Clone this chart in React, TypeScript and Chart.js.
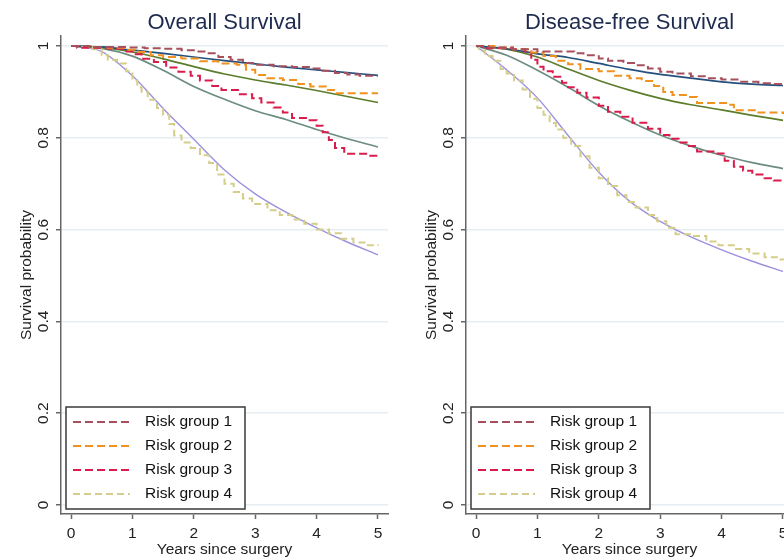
import React, { useEffect, useRef } from "react";
import { Chart, registerables } from "chart.js";

Chart.register(...registerables);
Chart.defaults.font.family = '"Liberation Sans", Arial, Helvetica, sans-serif';

// ---------- text ----------
const panelTitles = ["Overall Survival", "Disease-free Survival"];
const xAxisTitle = "Years since surgery";
const yAxisTitle = "Survival probability";
const legendLabels = ["Risk group 1", "Risk group 2", "Risk group 3", "Risk group 4"];

// ---------- ticks ----------
const xTickValues = [0, 1, 2, 3, 4, 5];
const yTickValues = [0, 0.2, 0.4, 0.6, 0.8, 1];
const yTickLabels = ["0", "0.2", "0.4", "0.6", "0.8", "1"];

// ---------- model (smooth) curves ----------
const modelYears = [0, 0.5, 1, 1.5, 2, 2.5, 3, 3.5, 4, 4.5, 5];

const osModel1 = [1, 0.998, 0.991, 0.984, 0.976, 0.968, 0.961, 0.954, 0.948, 0.942, 0.936];
const osModel2 = [1, 0.997, 0.987, 0.972, 0.955, 0.939, 0.926, 0.915, 0.903, 0.89, 0.877];
const osModel3 = [1, 0.995, 0.978, 0.947, 0.912, 0.884, 0.859, 0.84, 0.818, 0.798, 0.78];
const osModel4 = [1, 0.988, 0.935, 0.864, 0.797, 0.73, 0.678, 0.638, 0.604, 0.573, 0.545];

const dfsModel1 = [1, 0.994, 0.983, 0.975, 0.962, 0.949, 0.938, 0.93, 0.922, 0.917, 0.914];
const dfsModel2 = [1, 0.993, 0.976, 0.95, 0.925, 0.904, 0.886, 0.872, 0.861, 0.849, 0.838];
const dfsModel3 = [1, 0.98, 0.947, 0.91, 0.87, 0.836, 0.806, 0.782, 0.762, 0.746, 0.733];
const dfsModel4 = [1, 0.948, 0.887, 0.805, 0.725, 0.662, 0.618, 0.584, 0.556, 0.531, 0.509];

// ---------- Kaplan-Meier step curves: [years, survival] ----------
const osKm1 = [
  [0, 1], [0.3, 0.998], [0.9, 0.997], [1.2, 0.995], [1.5, 0.994], [1.8, 0.991], [2.0, 0.988],
  [2.2, 0.984], [2.4, 0.976], [2.6, 0.97], [2.8, 0.963], [3.0, 0.959], [3.3, 0.956], [3.6, 0.954],
  [3.9, 0.951], [4.1, 0.946], [4.3, 0.941], [4.5, 0.938], [4.7, 0.935], [5.0, 0.935],
];
const osKm2 = [
  [0, 1], [0.3, 0.998], [0.6, 0.996], [0.9, 0.992], [1.1, 0.987], [1.3, 0.98], [1.5, 0.976],
  [1.8, 0.973], [2.1, 0.967], [2.4, 0.962], [2.7, 0.959], [2.85, 0.948], [3.0, 0.937], [3.2, 0.93],
  [3.45, 0.926], [3.7, 0.917], [3.9, 0.912], [4.15, 0.904], [4.3, 0.897], [5.0, 0.897],
];
const osKm3 = [
  [0, 1], [0.1, 0.996], [0.6, 0.994], [0.85, 0.988], [1.0, 0.982], [1.15, 0.972], [1.35, 0.965],
  [1.55, 0.953], [1.75, 0.944], [1.95, 0.935], [2.1, 0.925], [2.3, 0.913], [2.45, 0.904], [2.75, 0.895],
  [2.95, 0.886], [3.1, 0.877], [3.3, 0.866], [3.45, 0.855], [3.6, 0.843], [3.85, 0.838], [4.0, 0.826],
  [4.1, 0.812], [4.2, 0.795], [4.3, 0.778], [4.45, 0.765], [4.85, 0.761], [5.0, 0.761],
];
const osKm4 = [
  [0, 1], [0.15, 0.998], [0.35, 0.993], [0.5, 0.98], [0.6, 0.97], [0.75, 0.962], [0.9, 0.945],
  [1.0, 0.925], [1.08, 0.91], [1.15, 0.9], [1.25, 0.883], [1.4, 0.865], [1.5, 0.85], [1.6, 0.83],
  [1.68, 0.805], [1.8, 0.79], [1.95, 0.778], [2.1, 0.762], [2.25, 0.745], [2.38, 0.72], [2.5, 0.7],
  [2.65, 0.682], [2.8, 0.668], [2.95, 0.656], [3.2, 0.642], [3.4, 0.632], [3.6, 0.622], [3.8, 0.613],
  [4.0, 0.6], [4.2, 0.592], [4.4, 0.58], [4.6, 0.572], [4.8, 0.566], [5.0, 0.565],
];

const dfsKm1 = [
  [0, 1], [0.2, 0.997], [0.6, 0.993], [1.0, 0.988], [1.6, 0.984], [1.75, 0.98], [2.0, 0.973],
  [2.15, 0.968], [2.4, 0.963], [2.6, 0.958], [2.8, 0.951], [3.0, 0.944], [3.2, 0.94], [3.5, 0.934],
  [3.75, 0.93], [4.0, 0.927], [4.3, 0.922], [4.6, 0.919], [4.85, 0.917], [5.0, 0.917],
];
const dfsKm2 = [
  [0, 1], [0.3, 0.997], [0.6, 0.993], [0.9, 0.986], [1.1, 0.978], [1.3, 0.968], [1.5, 0.96],
  [1.7, 0.95], [2.0, 0.945], [2.25, 0.935], [2.5, 0.93], [2.7, 0.924], [2.9, 0.913], [3.05, 0.9],
  [3.2, 0.893], [3.45, 0.889], [3.6, 0.876], [4.1, 0.872], [4.2, 0.86], [4.6, 0.855], [5.0, 0.852],
];
const dfsKm3 = [
  [0, 1], [0.1, 0.995], [0.6, 0.993], [0.8, 0.988], [0.9, 0.97], [1.0, 0.955], [1.1, 0.945],
  [1.25, 0.933], [1.4, 0.92], [1.5, 0.91], [1.65, 0.898], [1.8, 0.888], [2.0, 0.87], [2.15, 0.857],
  [2.35, 0.846], [2.55, 0.833], [2.8, 0.82], [3.0, 0.806], [3.15, 0.798], [3.3, 0.79], [3.45, 0.782],
  [3.6, 0.77], [3.9, 0.766], [4.05, 0.75], [4.2, 0.737], [4.35, 0.728], [4.5, 0.72], [4.7, 0.712],
  [4.85, 0.707], [5.0, 0.706],
];
const dfsKm4 = [
  [0, 1], [0.05, 0.99], [0.15, 0.978], [0.27, 0.968], [0.4, 0.95], [0.5, 0.94], [0.62, 0.925],
  [0.76, 0.905], [0.88, 0.885], [1.0, 0.865], [1.1, 0.85], [1.2, 0.832], [1.3, 0.818], [1.42, 0.8],
  [1.55, 0.782], [1.7, 0.76], [1.85, 0.735], [2.0, 0.712], [2.15, 0.695], [2.3, 0.675], [2.45, 0.66],
  [2.6, 0.648], [2.8, 0.632], [2.95, 0.618], [3.1, 0.604], [3.25, 0.59], [3.5, 0.586], [3.75, 0.574],
  [3.95, 0.566], [4.2, 0.558], [4.45, 0.548], [4.7, 0.54], [4.9, 0.535], [5.0, 0.533],
];

// ---------- styles ----------
const kmColors = ["#a5505c", "#f0921f", "#da1c4d", "#d5cd8a"];
const kmDashes = [[8, 4], [8, 4], [8, 4], [7, 4]];
const modelColors = ["#24507e", "#5b7d2c", "#6c8d80", "#9c92df"];

const panels = [
  { title: panelTitles[0], km: [osKm1, osKm2, osKm3, osKm4], model: [osModel1, osModel2, osModel3, osModel4] },
  { title: panelTitles[1], km: [dfsKm1, dfsKm2, dfsKm3, dfsKm4], model: [dfsModel1, dfsModel2, dfsModel3, dfsModel4] },
];

const boxLegendPlugin = {
  id: "boxLegend",
  afterDraw(chart: any, _args: any, opts: any) {
    const { ctx, chartArea } = chart;
    const items = opts.items || [];
    const w = 179;
    const h = 102;
    const x0 = chartArea.left + 5;
    const y0 = chartArea.bottom - 5 - h;
    ctx.save();
    ctx.fillStyle = "#ffffff";
    ctx.fillRect(x0, y0, w, h);
    ctx.strokeStyle = "#3a3a3a";
    ctx.lineWidth = 1.5;
    ctx.strokeRect(x0, y0, w, h);
    items.forEach((it: any, i: number) => {
      const cy = y0 + 15 + i * 24;
      ctx.setLineDash(it.dash);
      ctx.strokeStyle = it.color;
      ctx.lineWidth = 1.8;
      ctx.beginPath();
      ctx.moveTo(x0 + 7, cy);
      ctx.lineTo(x0 + 64, cy);
      ctx.stroke();
      ctx.setLineDash([]);
      ctx.fillStyle = "#111111";
      ctx.font = '15.5px "Liberation Sans", Arial, sans-serif';
      ctx.textBaseline = "middle";
      ctx.textAlign = "left";
      ctx.fillText(it.label, x0 + 79, cy);
    });
    ctx.restore();
  },
};

function buildConfig(idx: number): any {
  const p = panels[idx];
  const kmSets = p.km.map((series, i) => ({
    label: legendLabels[i],
    data: series.map(([t, s]) => ({ x: t, y: s })),
    stepped: "before",
    borderColor: kmColors[i],
    borderDash: kmDashes[i],
    borderWidth: 2,
    pointRadius: 0,
    fill: false,
  }));
  const modelSets = p.model.map((vals, i) => ({
    label: "model " + (i + 1),
    data: modelYears.map((t, j) => ({ x: t, y: vals[j] })),
    cubicInterpolationMode: "monotone",
    borderColor: modelColors[i],
    borderWidth: i === 3 ? 1.4 : 1.7,
    pointRadius: 0,
    fill: false,
  }));
  return {
    type: "line",
    data: { datasets: [...kmSets, ...modelSets] },
    plugins: [boxLegendPlugin],
    options: {
      responsive: false,
      animation: false,
      events: [],
      layout: { padding: { top: 0, right: 12, bottom: 0, left: 0 } },
      plugins: {
        legend: { display: false },
        tooltip: { enabled: false },
        title: {
          display: true,
          text: p.title,
          fullSize: false,
          color: "#1e2b4f",
          font: { size: 22, weight: "normal" },
          padding: { top: 9.5, bottom: 0.1 },
        },
        boxLegend: {
          items: legendLabels.map((label, i) => ({ label, color: kmColors[i], dash: kmDashes[i] })),
        },
      },
      scales: {
        x: {
          type: "linear",
          min: -0.163,
          max: 5.163,
          afterBuildTicks: (s: any) => {
            s.ticks = xTickValues.map((v) => ({ value: v }));
          },
          afterFit: (s: any) => {
            s.height = 44;
          },
          ticks: {
            autoSkip: false,
            maxRotation: 0,
            padding: 5,
            color: "#222222",
            font: { size: 15.5 },
            callback: (v: any) => String(v),
          },
          grid: { drawOnChartArea: false, tickLength: 5, tickColor: "#666666", tickWidth: 1.5 },
          border: { color: "#666666", width: 1.5 },
          title: {
            display: true,
            text: xAxisTitle,
            color: "#222222",
            font: { size: 15.5 },
            padding: { top: 0, bottom: -1 },
          },
        },
        y: {
          type: "linear",
          min: -0.0196,
          max: 1.0218,
          afterBuildTicks: (s: any) => {
            s.ticks = yTickValues.map((v) => ({ value: v }));
          },
          afterFit: (s: any) => {
            s.width = 61;
          },
          ticks: {
            autoSkip: false,
            minRotation: 90,
            maxRotation: 90,
            crossAlign: "center",
            padding: 2,
            color: "#222222",
            font: { size: 15.5 },
            callback: (v: any) => {
              const k = yTickValues.findIndex((t) => Math.abs(t - v) < 1e-6);
              return k >= 0 ? yTickLabels[k] : "";
            },
          },
          grid: { color: "#e7eef2", lineWidth: 1.5, tickLength: 5, tickColor: "#666666", tickWidth: 1.5 },
          border: { color: "#666666", width: 1.5 },
          title: {
            display: true,
            text: yAxisTitle,
            color: "#222222",
            font: { size: 15.5 },
            padding: { top: 17, bottom: 0 },
          },
        },
      },
    },
  };
}

export default function App() {
  const leftRef = useRef<HTMLCanvasElement>(null);
  const rightRef = useRef<HTMLCanvasElement>(null);

  useEffect(() => {
    const canvases = [leftRef.current, rightRef.current];
    const charts = canvases.map((c, i) => new Chart(c as HTMLCanvasElement, buildConfig(i)));
    return () => charts.forEach((ch) => ch.destroy());
  }, []);

  return (
    <div
      style={{
        position: "fixed",
        left: 0,
        top: 0,
        width: 784,
        height: 558,
        overflow: "hidden",
        background: "#ffffff",
      }}
    >
      <canvas
        ref={leftRef}
        width={400}
        height={558}
        style={{ position: "absolute", left: 0, top: 0, width: 400, height: 558 }}
      />
      <canvas
        ref={rightRef}
        width={400}
        height={558}
        style={{ position: "absolute", left: 405, top: 0, width: 400, height: 558 }}
      />
    </div>
  );
}
